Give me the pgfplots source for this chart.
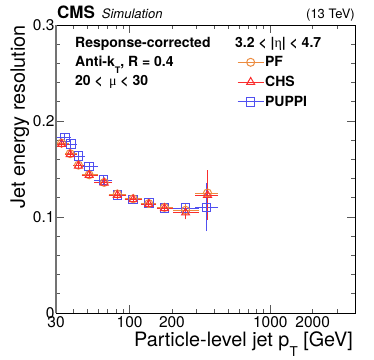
\documentclass[border=0pt]{standalone}
\usepackage{fontspec}
\setmainfont{TeX Gyre Heros}
\newfontfamily\sym{Liberation Serif}
\usepackage{pgfplots}
\pgfplotsset{compat=1.18}
\definecolor{pfcol}{RGB}{236,140,64}
\definecolor{chscol}{RGB}{250,45,45}
\definecolor{puppicol}{RGB}{80,80,240}
\newcommand{\fs}[1]{\fontsize{#1}{#1}\selectfont}

\pgfplotsset{
  pf/.style={color=pfcol, mark=o, mark size=4pt, line width=0.9pt, mark options={solid, line width=1pt}},
  chs/.style={color=chscol, mark=triangle, mark size=4.6pt, line width=0.9pt, mark options={solid, line width=1pt}},
  puppi/.style={color=puppicol, mark=square, mark size=4.3pt, line width=0.9pt, mark options={solid, line width=1pt}},
  errs/.style={only marks, forget plot,
    error bars/.cd, x dir=both, x explicit, y dir=both, y explicit,
    error bar style={line width=0.8pt}, error mark options={mark size=1.8pt, line width=0.8pt}},
}

\begin{document}
\begin{tikzpicture}
\useasboundingbox (-56pt,-46pt) rectangle (318pt,313pt);
\begin{axis}[
  at={(0,0)}, anchor=south west,
  scale only axis, width=299pt, height=288pt,
  xmode=log, xmin=30, xmax=4000, ymin=0, ymax=0.3,
  xtick={100,1000}, xticklabels={100,1000},
  extra x ticks={30,200,2000}, extra x tick labels={30,200,2000},
  extra x tick style={major tick length=0pt},
  minor xtick={40,50,60,70,80,90,200,300,400,500,600,700,800,900,2000,3000},
  ytick={0,0.1,0.2,0.3}, yticklabels={0,0.1,0.2,0.3},
  minor y tick num=4,
  major tick length=8pt, minor tick length=4pt,
  tick style={line width=0.8pt, color=black!65},
  axis line style={line width=0.8pt},
  /pgf/number format/assume math mode=true,
  ticklabel style={font=\fs{15.5}},
  yticklabel style={xshift=2pt},
  xlabel={Particle-level jet p\raisebox{-9.5pt}{\fs{13.5}T} [GeV]},
  ylabel={Jet energy resolution},
  xlabel style={at={(axis description cs:1,-0.118)}, anchor=base east, xshift=-2pt, inner sep=0pt, font=\fs{19.8}},
  ylabel style={at={(axis description cs:-0.1037,1)}, anchor=base east, inner sep=0pt, font=\fs{19.8}},
  legend image code/.code={\draw[mark repeat=2, mark phase=2, #1] plot coordinates {(0pt,0pt) (13pt,0pt) (26pt,0pt)};},
  legend style={draw=none, fill=none, at={(axis description cs:0.6054,0.895)}, anchor=north west,
    font=\bfseries\fs{14}, inner sep=0pt, row sep=6pt,
    nodes={inner sep=1pt}},
  legend cell align=left,
]
% PUPPI
\addplot[puppi, errs] coordinates {
(34.6,0.1830) += (2.4,0.002) -= (3.6,0.002)
(38.2,0.1760) += (2.8,0.002) -= (2.2,0.002)
(43.3,0.1635) += (3.7,0.002) -= (2.3,0.002)
(51.6,0.1524) += (6.4,0.002) -= (4.6,0.002)
(65.3,0.1385) += (7.7,0.002) -= (7.3,0.002)
(81.8,0.1229) += (10.2,0.002) -= (8.8,0.002)
(106,0.1184) += (13,0.002) -= (11,0.002)
(137,0.1143) += (13,0.002) -= (13,0.002)
(177,0.1091) += (21,0.002) -= (16,0.002)
(250,0.1091) += (50,0.003) -= (40,0.003)
(352,0.1101) += (62,0.023) -= (50,0.023)
};
% PF
\addplot[pf, errs] coordinates {
(32.9,0.1770) += (3.1,0.002) -= (1.9,0.002)
(37.8,0.1660) += (3.2,0.002) -= (1.8,0.002)
(43.3,0.1540) += (3.7,0.002) -= (2.3,0.002)
(51.6,0.1440) += (6.4,0.002) -= (4.6,0.002)
(66,0.1360) += (7,0.002) -= (8,0.002)
(81.8,0.1240) += (10.2,0.002) -= (8.8,0.002)
(106,0.1190) += (13,0.002) -= (11,0.002)
(137,0.1140) += (13,0.002) -= (13,0.002)
(177,0.1100) += (21,0.002) -= (16,0.002)
(250,0.1070) += (50,0.005) -= (40,0.005)
(358,0.1250) += (56,0.022) -= (56,0.022)
};
% CHS
\addplot[chs, errs] coordinates {
(32.9,0.1760) += (3.1,0.002) -= (1.9,0.002)
(37.8,0.1653) += (3.2,0.002) -= (1.8,0.002)
(43.3,0.1534) += (3.7,0.002) -= (2.3,0.002)
(51.6,0.1438) += (6.4,0.002) -= (4.6,0.002)
(66,0.1357) += (7,0.002) -= (8,0.002)
(81.8,0.1229) += (10.2,0.002) -= (8.8,0.002)
(106,0.1184) += (13,0.002) -= (11,0.002)
(137,0.1135) += (13,0.002) -= (13,0.002)
(177,0.1091) += (21,0.002) -= (16,0.002)
(250,0.1045) += (50,0.005) -= (40,0.005)
(358,0.1229) += (56,0.024) -= (56,0.024)
};
\addlegendimage{pf}
\addlegendentry{PF}
\addlegendimage{chs}
\addlegendentry{CHS}
\addlegendimage{puppi}
\addlegendentry{PUPPI}
\end{axis}
\draw[black!55, line width=1.6pt] (0,0) -- (0,288pt);
\node[anchor=base west, inner sep=0pt, font=\bfseries\fs{17}] at (1pt,294pt) {CMS};
\node[anchor=base west, inner sep=0pt, font=\itshape\fs{13}] at (45.7pt,294pt) {Simulation};
\node[anchor=base east, inner sep=0pt, font=\fs{13}] at (299pt,294pt) {(13 TeV)};
\node[anchor=base west, inner sep=0pt, font=\bfseries\fs{14}] at (19pt,265.3pt) {Response-corrected};
\node[anchor=base west, inner sep=0pt, font=\bfseries\fs{14}] at (19pt,246pt) {Anti-k\raisebox{-6.5pt}{\fs{9}T}, R = 0.4};
\node[anchor=base west, inner sep=0pt, font=\bfseries\fs{14}] at (19pt,227pt) {20 < \,{\sym\mdseries μ} < 30};
\node[anchor=base west, inner sep=0pt, font=\bfseries\fs{14}] at (179pt,265.3pt) {3.2 < |{\sym\mdseries η}| < 4.7};
\end{tikzpicture}
\end{document}
